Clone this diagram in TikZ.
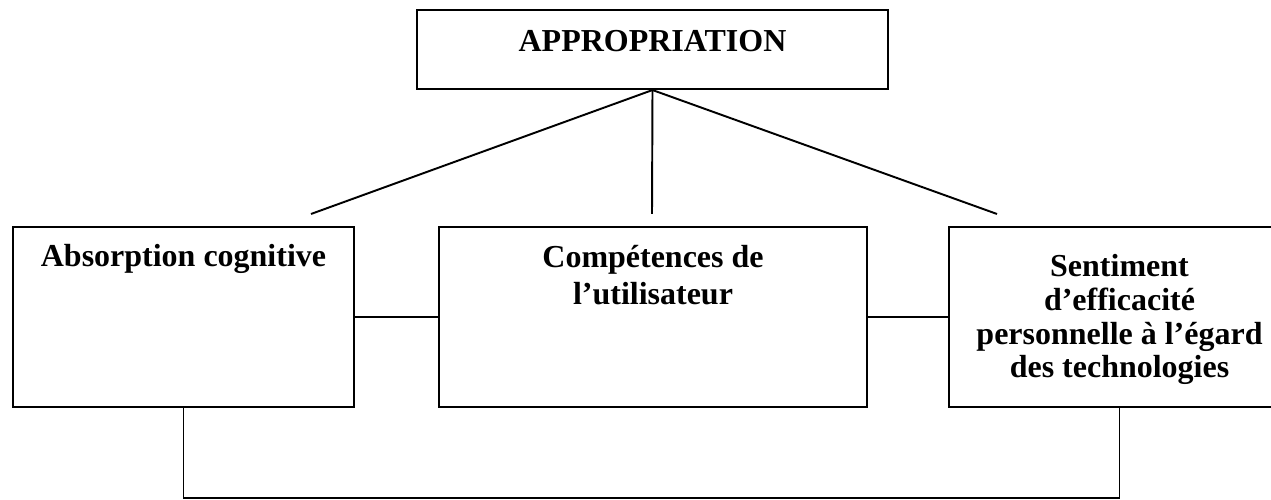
\documentclass[tikz,border=0pt]{standalone}
\usepackage{fontspec}
\setmainfont{Liberation Serif}
\usepackage{tikz}
\usetikzlibrary{positioning}
\tikzset{box node/.style={rectangle,draw,line width=1.2pt,inner sep=0pt},
            text node/.style={align=center,inner sep=0pt,font=\fontsize{18.2pt}{21pt}\selectfont\bfseries},
            }

\begin{document}
\begin{tikzpicture}[line width=1.1pt]
				\useasboundingbox (0,0) rectangle (25.42,10);
				\node[box node,minimum width=9.42cm,minimum height=1.58cm] (app) at (13.05,9.01) {};
				\node[box node,minimum width=6.82cm,minimum height=3.6cm] (absorb) at (3.67,3.66) {};
				\node[box node,minimum width=8.56cm,minimum height=3.6cm] (comp) at (13.06,3.66) {};
				\node[box node,minimum width=6.82cm,minimum height=3.6cm] (sent) at (22.39,3.66) {};
				
				\node[text node,below=0.32cm of app.north] (appText) {\strut APPROPRIATION};
				\node[text node,below=0.28cm of absorb.north] (absorbText) {\strut Absorption cognitive};
				\node[text node,below=0.30cm of comp.north] (compText) {\strut Compétences de\\\strut l’utilisateur};
				\node[text node,font=\fontsize{18.2pt}{19.1pt}\selectfont\bfseries,below=0.53cm of sent.north] (sentText) {\strut Sentiment\\\strut d’efficacité\\\strut personnelle à l’égard\\\strut des technologies};
				
				\coordinate (absorbEnd) at (6.22,5.72);
				\coordinate (compEnd) at (13.04,5.72);
				\coordinate (sentEnd) at (19.94,5.72);
				
				\draw (app.south) to (absorbEnd);
				\draw (app.south) to (compEnd);
				\draw (app.south) to (sentEnd);
				\draw (absorb.east) to (comp.west);
				\draw (comp.east) to (sent.west);
				\draw (absorb.south) -- ++(0,-1.8) -| (sent.south);
			\end{tikzpicture}
\end{document}
